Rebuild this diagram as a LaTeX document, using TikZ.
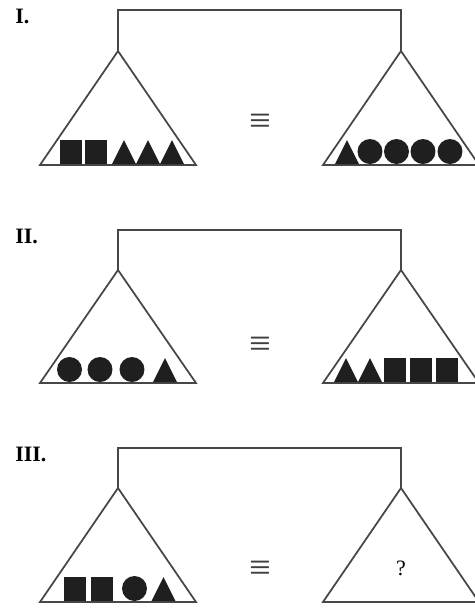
\documentclass[tikz,border=0pt]{standalone}
\usepackage{fontspec}
\setmainfont{Liberation Serif}
\usetikzlibrary{positioning}

% small filled pieces, placed on the base line of a pan
\newcommand{\blksq}[1]{\fill[piece] (#1-11,-1) rectangle ++(22,-24);}
\newcommand{\blktri}[1]{\fill[piece] (#1-12,-1) -- ++(24,0) -- (#1,-25) -- cycle;}
\newcommand{\blkdisc}[1]{\fill[piece] (#1,-13.5) circle[radius=12.5];}

\begin{document}
\begin{tikzpicture}[
  x=0.02cm, y=-0.02cm,
  edge/.style={draw=black!72, line width=1pt, line join=miter},
  piece/.style={fill=black!88},
  lbl/.style={font=\fontsize{12.5}{14}\selectfont\bfseries, anchor=base west, inner sep=0pt},
  eqv/.style={font=\fontsize{22}{22}\selectfont, inner sep=0pt, text=black!75},
  qmark/.style={font=\fontsize{12.5}{14}\selectfont, inner sep=0pt}
]
\useasboundingbox (0,0) rectangle (475,610);

% I.
\begin{scope}[shift={(0,165)}]
  \coordinate (la1) at (118,-114);
  \coordinate (ra1) at (401,-114);
  \draw[edge] (la1) -- ++(-78,114) -- ++(156,0) -- cycle;
  \draw[edge] (ra1) -- ++(-78,114) -- ++(156,0) -- cycle;
  \draw[edge] (la1) -- ++(0,-41) -| (ra1);
  \node[lbl] (lab1) at (15,-142) {I.};
  \node[eqv] (eq1) at (260,-41) {≡};
  \blksq{71.5} \blksq{96.5}
  \blktri{124} \blktri{148} \blktri{172}
  \blktri{347}
  \blkdisc{370} \blkdisc{396.5} \blkdisc{423} \blkdisc{450}
\end{scope}

% II.
\begin{scope}[shift={(0,383)}]
  \coordinate (la2) at (118,-113);
  \coordinate (ra2) at (401,-113);
  \draw[edge] (la2) -- ++(-78,113) -- ++(156,0) -- cycle;
  \draw[edge] (ra2) -- ++(-78,113) -- ++(156,0) -- cycle;
  \draw[edge] (la2) -- ++(0,-40) -| (ra2);
  \node[lbl] (lab2) at (15,-140) {II.};
  \node[eqv] (eq2) at (260,-36) {≡};
  \blkdisc{69.5} \blkdisc{100} \blkdisc{132}
  \blktri{165}
  \blktri{346} \blktri{370}
  \blksq{395.5} \blksq{421.5} \blksq{447}
\end{scope}

% III.
\begin{scope}[shift={(0,602)}]
  \coordinate (la3) at (118,-114);
  \coordinate (ra3) at (401,-114);
  \draw[edge] (la3) -- ++(-78,114) -- ++(156,0) -- cycle;
  \draw[edge] (ra3) -- ++(-78,114) -- ++(156,0) -- cycle;
  \draw[edge] (la3) -- ++(0,-40) -| (ra3);
  \node[lbl] (lab3) at (15,-141) {III.};
  \node[eqv] (eq3) at (260,-31) {≡};
  \blksq{75.5} \blksq{102.5}
  \blkdisc{134.5}
  \blktri{163.5}
  \node[qmark] (qm) at (401,-34) {?};
\end{scope}
\end{tikzpicture}
\end{document}
